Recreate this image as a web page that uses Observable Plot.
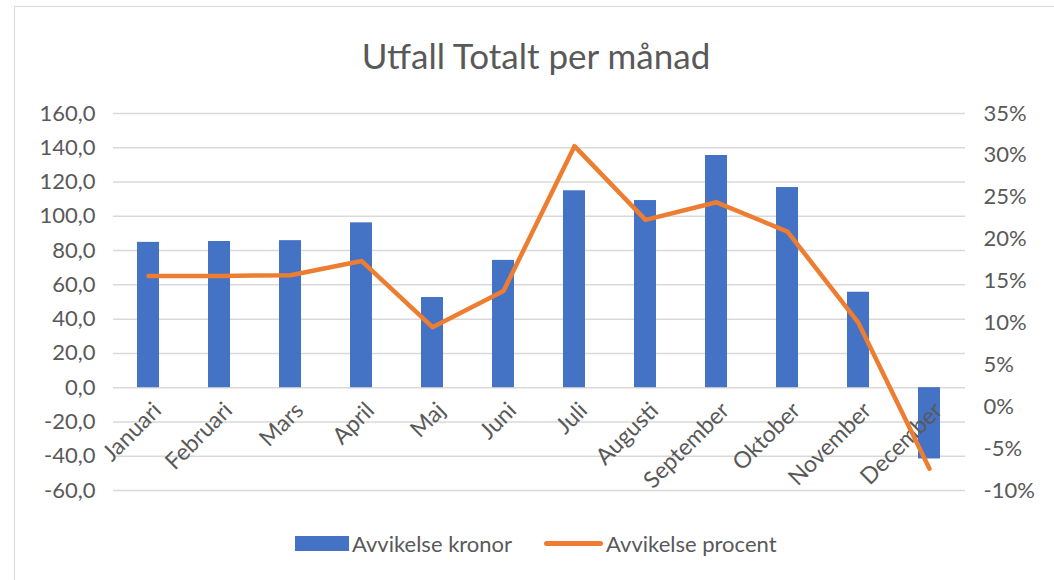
<!DOCTYPE html>
<html>
<head>
<meta charset="utf-8">
<script src="https://cdn.jsdelivr.net/npm/d3@7"></script>
<script src="https://cdn.jsdelivr.net/npm/@observablehq/plot@0.6"></script>
<style>
  html, body { margin: 0; padding: 0; background: #fff; }
  #wrap { position: relative; width: 1054px; height: 580px; overflow: hidden; font-family: Lato, "Open Sans", sans-serif; color: #595959; }
  #border { position: absolute; left: 14px; top: 6px; width: 1100px; height: 620px; border: 1.5px solid #d9d9d9; box-sizing: border-box; }
  #title { position: absolute; left: 0; top: 35px; width: 1072px; text-align: center; font-size: 35px; line-height: 40px; }
  #chart { position: absolute; left: 0; top: 90px; }
  #legend { position: absolute; left: 295px; top: 528px; height: 30px; display: flex; align-items: center; font-size: 22px; }
  .sw-bar { width: 54px; height: 15px; background: #4472C4; margin-right: 3px; }
  .sw-line { width: 59px; height: 5px; border-radius: 3px; background: #ED7D31; margin-right: 3px; margin-left: 32px; }
</style>
</head>
<body>
<div id="wrap">
  <div id="border"></div>
  <div id="title">Utfall Totalt per månad</div>
  <div id="chart"></div>
  <div id="legend">
    <div class="sw-bar"></div><span>Avvikelse kronor</span>
    <div class="sw-line"></div><span>Avvikelse procent</span>
  </div>
</div>
<script>
const months = ["Januari","Februari","Mars","April","Maj","Juni","Juli","Augusti","September","Oktober","November","December"];
const kronor = [84.8, 85.3, 85.8, 96.2, 52.6, 74.3, 114.9, 109.2, 135.5, 116.8, 55.7, -41.6];
const procent = [15.6, 15.6, 15.7, 17.4, 9.5, 13.8, 31.1, 22.3, 24.4, 20.9, 10.0, -7.4];
const leftTicks = [-60, -40, -20, 0, 20, 40, 60, 80, 100, 120, 140, 160];
const rightTicks = [-10, -5, 0, 5, 10, 15, 20, 25, 30, 35];

// map the right (percent) axis [-10, 35] onto the left axis [-60, 160]
const toLeft = p => -60 + (p + 10) * (220 / 45);
const fromLeft = v => (v + 60) * (45 / 220) - 10;

const data = months.map((m, i) => ({month: m, kr: kronor[i], pct: procent[i]}));

const plot = Plot.plot({
  width: 1054,
  height: 430,
  marginTop: 23,
  marginBottom: 30,
  marginLeft: 113,
  marginRight: 89,
  style: {fontFamily: "Lato, 'Open Sans', sans-serif", background: "transparent"},
  x: {domain: months, axis: null, paddingInner: 0.69, paddingOuter: 0.345},
  y: {domain: [-60, 160], label: null},
  marks: [
    Plot.gridY(leftTicks, {stroke: "#d9d9d9", strokeOpacity: 1, strokeWidth: 1.5}),
    Plot.axisY(leftTicks, {anchor: "left", label: null, tickSize: 0, tickPadding: 18, fontSize: 22, color: "#595959",
      tickFormat: d => d.toFixed(1).replace(".", ",")}),
    Plot.axisY(rightTicks.map(toLeft), {anchor: "right", label: null, tickSize: 0, tickPadding: 18, fontSize: 22, color: "#595959",
      textAnchor: "start", tickFormat: v => Math.round(fromLeft(v)) + "%"}),
    Plot.barY(data, {x: "month", y: "kr", fill: "#4472C4"}),
    Plot.text(data, {x: "month", y: () => 0, text: "month", rotate: -45, textAnchor: "end", lineAnchor: "middle",
      dx: 9, dy: 19, fontSize: 23, fill: "#595959"}),
    Plot.line(data, {x: "month", y: d => toLeft(d.pct), stroke: "#ED7D31", strokeWidth: 4.5,
      strokeLinejoin: "round", strokeLinecap: "round"})
  ]
});
document.getElementById("chart").appendChild(plot);
</script>
</body>
</html>
